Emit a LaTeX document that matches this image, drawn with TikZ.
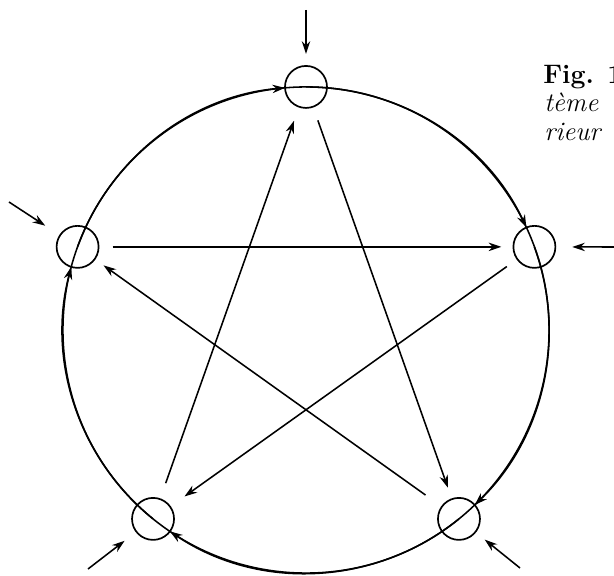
\documentclass[tikz,border=0pt]{standalone}
\usetikzlibrary{arrows.meta}
\tikzstyle{station} = [circle, draw, line width=1.2pt, minimum size=1.05cm, inner sep=0pt]
\tikzstyle{arrow} = [->, >={Stealth[length=9pt, width=6pt]}, line width=1.1pt]
\tikzstyle{ring} = [line width=1.1pt]
\tikzstyle{caption} = [anchor=base west, inner sep=0pt, font=\fontsize{19}{21}\selectfont]

\begin{document}
\begin{tikzpicture}[x=0.025cm, y=0.025cm]
\useasboundingbox (0,0) rectangle (614,575);
\clip (0,0) rectangle (614,575);

\coordinate (c) at (306,245);

\node (top) [station] at ([shift={(90:6.075cm)}]c) {};
\node (right) [station] at ([shift={(20:6.075cm)}]c) {};
\node (lowright) [station] at ([shift={(-51:6.075cm)}]c) {};
\node (lowleft) [station] at ([shift={(-129:6.075cm)}]c) {};
\node (left) [station] at ([shift={(160:6.075cm)}]c) {};

% outer ring, clockwise
\draw[ring] (c) circle[radius=6.075cm];
\draw[arrow] (left.center) arc[start angle=160, end angle=94.95, radius=6.075cm];
\draw[arrow] (top.center) arc[start angle=90, end angle=24.95, radius=6.075cm];
\draw[arrow] (right.center) arc[start angle=20, end angle=-46.05, radius=6.075cm];
\draw[arrow] (lowright.center) arc[start angle=-51, end angle=-124.05, radius=6.075cm];
\draw[arrow] (lowleft.center) arc[start angle=-129, end angle=-195.05, radius=6.075cm];

% star
\draw[arrow, shorten <=0.33cm, shorten >=0.28cm] (left) -- (right);
\draw[arrow, shorten <=0.3cm, shorten >=0.42cm] (right) -- (lowleft);
\draw[arrow, shorten <=0.4cm, shorten >=0.35cm] (lowleft) -- (top);
\draw[arrow, shorten <=0.34cm, shorten >=0.28cm] (top) -- (lowright);
\draw[arrow, shorten <=0.48cm, shorten >=0.25cm] (lowright) -- (left);

% inputs from outside
\coordinate (topin) at (306,565);
\coordinate (leftin) at (9,373);
\coordinate (rightin) at (616,328);
\coordinate (lowleftin) at (88,6);
\coordinate (lowrightin) at (520,7);

\draw[arrow, shorten >=0.28cm] (topin) -- (top);
\draw[arrow, shorten >=0.42cm] (leftin) -- (left);
\draw[arrow, shorten >=0.4cm] (rightin) -- (right);
\draw[arrow, shorten >=0.35cm] (lowleftin) -- (lowleft);
\draw[arrow, shorten >=0.28cm] (lowrightin) -- (lowright);

% caption, cut at the right edge
\node (figno) [caption] at (543,491) {\textbf{Fig. 1}};
\node (capline1) [caption] at (544,463) {\textit{tème}};
\node (capline2) [caption] at (544,435) {\textit{rieur}};

\end{tikzpicture}
\end{document}
